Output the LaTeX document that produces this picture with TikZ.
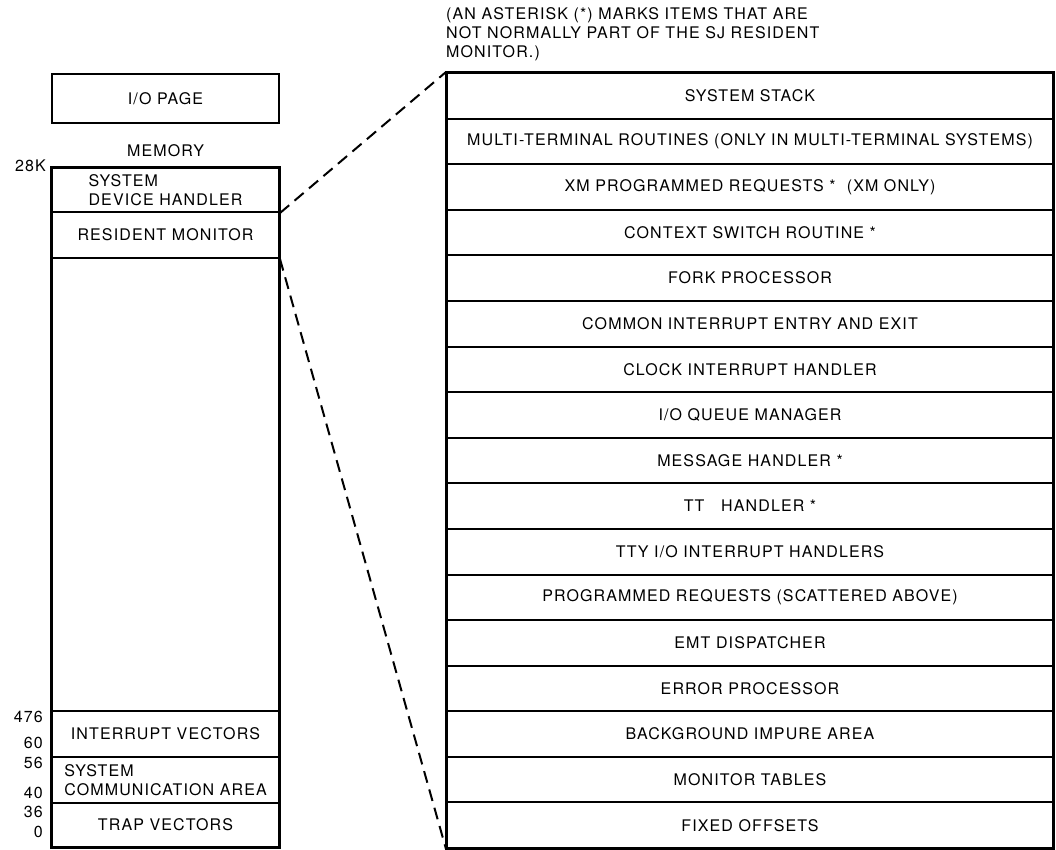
\documentclass[tikz,border=0pt]{standalone}
\usepackage{fontspec}
\setmainfont[LetterSpace=7]{TeX Gyre Heros}
\begin{document}
\begin{tikzpicture}[x=1pt,y=-1pt,
  every node/.style={font=\fontsize{16}{19}\selectfont, inner sep=0pt},
  rowbox/.style={draw, line width=2pt, minimum width=606pt, minimum height=45.59pt},
  lbox/.style={draw, line width=2pt, minimum width=227pt},
  addr/.style={anchor=east},
  dashpat/.style={line width=2pt, dash pattern=on 12pt off 7pt}
]
\useasboundingbox (0,0) rectangle (1056,849);

% note
\node[anchor=north west, align=left] (note) at (446,7)
  {(AN ASTERISK (*) MARKS ITEMS THAT ARE\\NOT NORMALLY PART OF THE SJ RESIDENT\\MONITOR.)};

% right column
\foreach \i/\t in {
  1/{SYSTEM STACK},
  2/{MULTI-TERMINAL ROUTINES (ONLY IN MULTI-TERMINAL SYSTEMS)},
  3/{XM PROGRAMMED REQUESTS * \ (XM ONLY)},
  4/{CONTEXT SWITCH ROUTINE *},
  5/{FORK PROCESSOR},
  6/{COMMON INTERRUPT ENTRY AND EXIT},
  7/{CLOCK INTERRUPT HANDLER},
  8/{I/O QUEUE MANAGER},
  9/{MESSAGE HANDLER *},
  10/{TT\ \ \ HANDLER *},
  11/{TTY I/O INTERRUPT HANDLERS},
  12/{PROGRAMMED REQUESTS (SCATTERED ABOVE)},
  13/{EMT DISPATCHER},
  14/{ERROR PROCESSOR},
  15/{BACKGROUND IMPURE AREA},
  16/{MONITOR TABLES},
  17/{FIXED OFFSETS}}
  \node[rowbox] (r\i) at (750, {73+45.59*(\i-0.5)}) {\t};
\draw[line width=2.6pt] (r1.north west) rectangle (r17.south east);

% left column
\node[lbox, minimum height=49pt] (iop) at (165.5,98.5) {I/O PAGE};
\node (mem) at (165.5,151) {MEMORY};
\node[lbox, minimum height=44pt, align=left] (sdh) at (165.5,190) {SYSTEM\\DEVICE HANDLER};
\node[lbox, minimum height=46pt] (rm) at (165.5,235) {RESIDENT MONITOR};
\node[lbox, minimum height=453pt] (free) at (165.5,484.5) {};
\node[lbox, minimum height=46pt] (iv) at (165.5,734) {INTERRUPT VECTORS};
\node[lbox, minimum height=46pt, align=left] (sca) at (165.5,780) {SYSTEM\\COMMUNICATION AREA};
\node[lbox, minimum height=44pt] (tv) at (165.5,825) {TRAP VECTORS};
\draw[line width=2.8pt] (sdh.north west) rectangle (tv.south east);

% addresses
\node[addr] (a28k) at (46,166) {28K};
\node[addr] (a476) at (43,717) {476};
\node[addr] (a60) at (43,743) {60};
\node[addr] (a56) at (43,763) {56};
\node[addr] (a40) at (43,793) {40};
\node[addr] (a36) at (43,812) {36};
\node[addr] (a0) at (43,832) {0};

% dashed connectors
\draw[dashpat] (sdh.south east) -- (r1.north west);
\draw[dashpat] (rm.south east) -- (r17.south west);
\end{tikzpicture}
\end{document}
